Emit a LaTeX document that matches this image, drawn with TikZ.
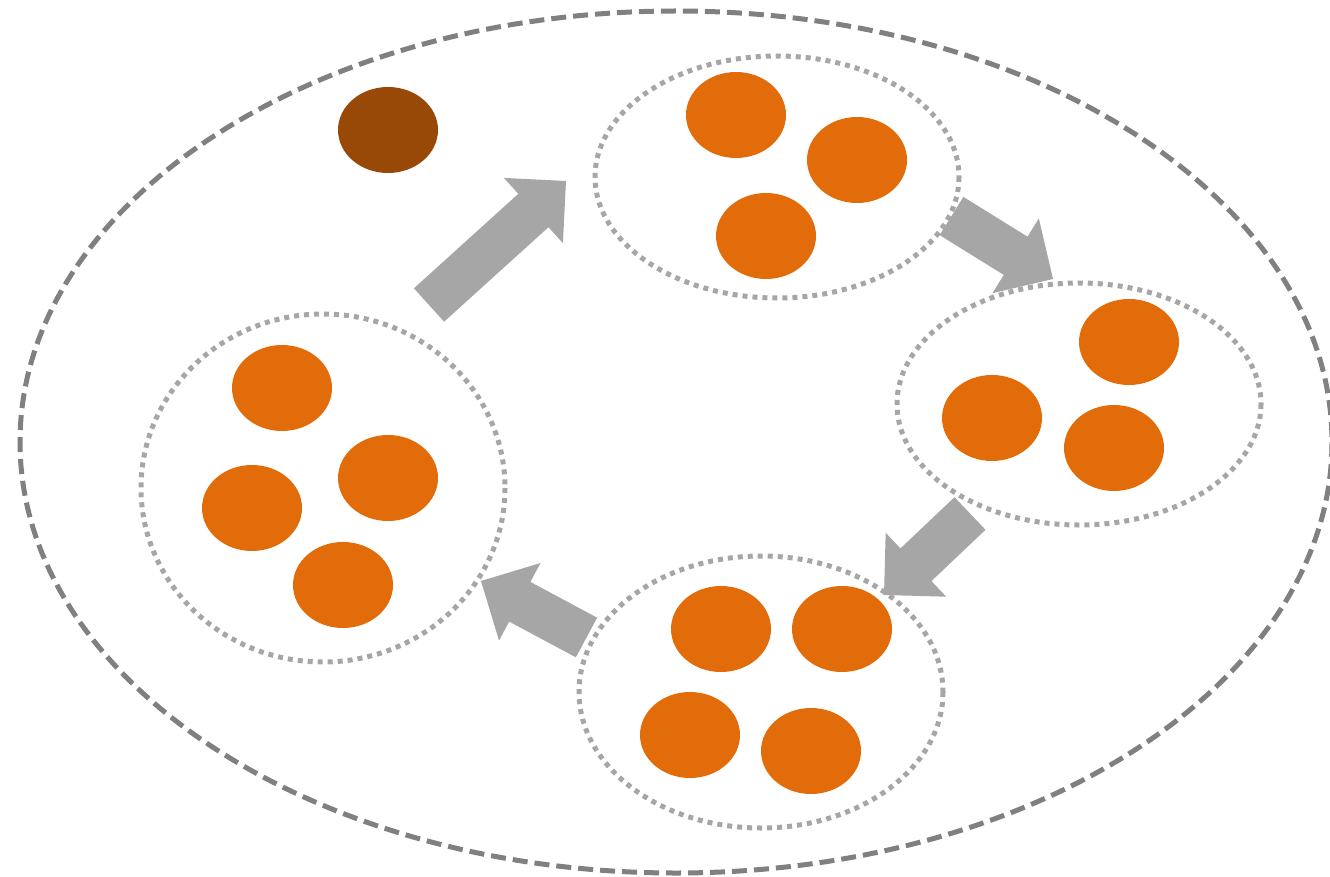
\documentclass[tikz,border=0pt]{standalone}
\usetikzlibrary{calc}
\definecolor{orangefill}{HTML}{E36C0A}
\definecolor{brownfill}{HTML}{984807}
\definecolor{arrowgray}{HTML}{A6A6A6}
\definecolor{dotgray}{HTML}{A6A6A6}
\definecolor{dashgray}{HTML}{808080}
\tikzset{
  outerring/.style={draw=dashgray, line width=5pt, dash pattern=on 15pt off 7pt},
  groupring/.style={draw=dotgray, line width=5pt, dash pattern=on 5pt off 5pt},
  cell/.style={fill=orangefill},
  darkcell/.style={fill=brownfill},
  blockarrowfill/.style={fill=arrowgray},
}
\newcommand\blockarrow[2]{%
  \coordinate (#1-hb) at ($(#2)!44pt!(#1)$);
  \fill[blockarrowfill]
    ($(#1)!22.5pt!90:(#2)$) --
    ($(#1-hb)!22.5pt!90:(#2)$) --
    ($(#1-hb)!44pt!90:(#2)$) --
    (#2) --
    ($(#1-hb)!44pt!-90:(#2)$) --
    ($(#1-hb)!22.5pt!-90:(#2)$) --
    ($(#1)!22.5pt!-90:(#2)$) -- cycle;
}
\begin{document}
\begin{tikzpicture}[x=1pt,y=-1pt]
\useasboundingbox (0,0) rectangle (1330,877);
% outer dashed ellipse
\draw[outerring] (676,442) ellipse [x radius=656, y radius=431];
% group rings
\draw[groupring] (777,177) ellipse [x radius=182, y radius=121];
\draw[groupring] (1079,404) ellipse [x radius=182, y radius=121];
\draw[groupring] (761,692) ellipse [x radius=182, y radius=136];
\draw[groupring] (323,488) ellipse [x radius=182, y radius=174];
% dark cell
\fill[darkcell] (388,130) ellipse [x radius=50, y radius=43];
% top group
\fill[cell] (736,115) ellipse [x radius=50, y radius=43];
\fill[cell] (857,160) ellipse [x radius=50, y radius=43];
\fill[cell] (766,236) ellipse [x radius=50, y radius=43];
% right group
\fill[cell] (1129,342) ellipse [x radius=50, y radius=43];
\fill[cell] (992,418) ellipse [x radius=50, y radius=43];
\fill[cell] (1114,448) ellipse [x radius=50, y radius=43];
% bottom group
\fill[cell] (721,629) ellipse [x radius=50, y radius=43];
\fill[cell] (842,629) ellipse [x radius=50, y radius=43];
\fill[cell] (690,735) ellipse [x radius=50, y radius=43];
\fill[cell] (811,751) ellipse [x radius=50, y radius=43];
% left group
\fill[cell] (282,388) ellipse [x radius=50, y radius=43];
\fill[cell] (388,478) ellipse [x radius=50, y radius=43];
\fill[cell] (252,508) ellipse [x radius=50, y radius=43];
\fill[cell] (343,585) ellipse [x radius=50, y radius=43];
% arrows
\coordinate (a1) at (429,305);   \coordinate (a1t) at (566,181);
\coordinate (a2) at (951.5,216); \coordinate (a2t) at (1053,279);
\coordinate (a3) at (970,513.5); \coordinate (a3t) at (884,595);
\coordinate (a4) at (586.5,637.5); \coordinate (a4t) at (481,581);
\blockarrow{a1}{a1t}
\blockarrow{a2}{a2t}
\blockarrow{a3}{a3t}
\blockarrow{a4}{a4t}
\end{tikzpicture}
\end{document}
